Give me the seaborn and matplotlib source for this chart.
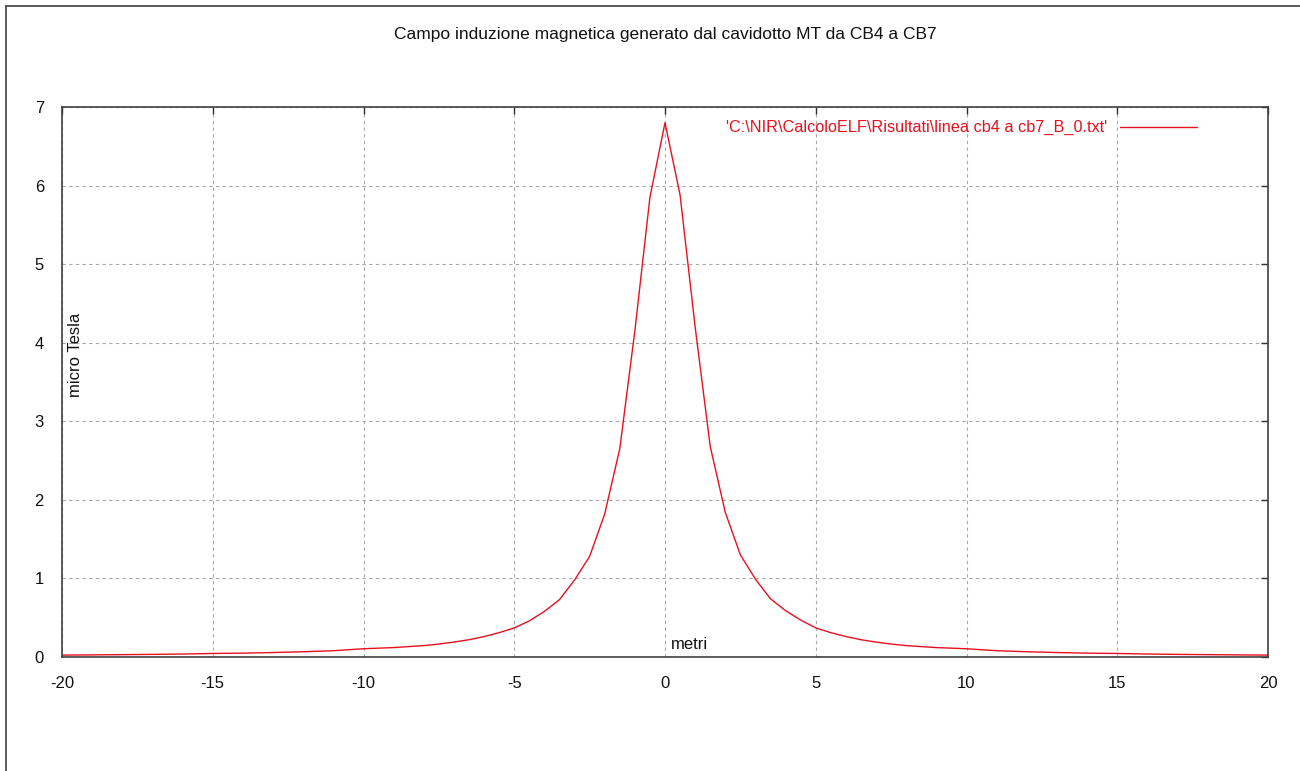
import pandas as pd
import seaborn as sns
import matplotlib.pyplot as plt
from matplotlib.lines import Line2D

# distance from the cable axis (m) and magnetic induction (microtesla)
distanza = [-20, -19, -18, -17, -16, -15, -14, -13, -12, -11, -10, -9,
            -8, -7.5, -7, -6.5, -6, -5.5, -5, -4.5, -4, -3.5, -3, -2.5,
            -2, -1.5, -1, -0.5, 0, 0.5, 1, 1.5, 2, 2.5, 3, 3.5, 4, 4.5,
            5, 5.5, 6, 6.5, 7, 7.5, 8, 9, 10, 11, 12, 13, 14, 15, 16, 17,
            18, 19, 20]
campo_b = [0.024, 0.027, 0.030, 0.033, 0.038, 0.045, 0.049, 0.057, 0.067,
           0.080, 0.105, 0.12, 0.145, 0.165, 0.19, 0.22, 0.26, 0.31, 0.37,
           0.46, 0.58, 0.73, 0.98, 1.28, 1.82, 2.65, 4.15, 5.85, 6.80,
           5.88, 4.2, 2.68, 1.84, 1.3, 0.99, 0.74, 0.59, 0.47, 0.37,
           0.31, 0.26, 0.22, 0.19, 0.165, 0.145, 0.12, 0.105, 0.080, 0.067,
           0.057, 0.049, 0.045, 0.038, 0.033, 0.030, 0.027, 0.024]

titolo = "Campo induzione magnetica generato dal cavidotto MT da CB4 a CB7"
etichetta = "'C:\\NIR\\CalcoloELF\\Risultati\\linea cb4 a cb7_B_0.txt'"
x_ticks = [-20, -15, -10, -5, 0, 5, 10, 15, 20]
y_ticks = [0, 1, 2, 3, 4, 5, 6, 7]

df = pd.DataFrame({"metri": distanza, "B": campo_b})

sns.set_theme(style="white")
plt.rcParams["font.family"] = ["Liberation Sans", "DejaVu Sans"]
plt.rcParams["axes.unicode_minus"] = False
fs = 12

rosso = "#e8101e"
fig = plt.figure(figsize=(13, 7.71), dpi=100)
ax = fig.add_axes([62 / 1300, 114 / 771, 1206 / 1300, 550 / 771])

sns.lineplot(data=df, x="metri", y="B", color=rosso, linewidth=1.0, ax=ax,
             label=etichetta)

ax.set_xlim(-20, 20)
ax.set_ylim(0, 7)
ax.set_xticks(x_ticks)
ax.set_yticks(y_ticks)
ax.grid(True, color="#a8a8a8", linestyle=(0, (3, 3)), linewidth=0.8)
ax.tick_params(direction="in", length=5, width=1, color="#303030",
               top=True, right=True, labelsize=fs, labelcolor="#111111")
ax.tick_params(axis="x", pad=14)
ax.tick_params(axis="y", pad=13)
for s in ax.spines.values():
    s.set_color("#404040")
    s.set_linewidth(1.2)

ax.set_xlabel("metri", fontsize=fs, color="#111111")
ax.xaxis.set_label_coords(0.52, 0.036)
ax.set_ylabel("micro Tesla", fontsize=fs, color="#111111")
ax.yaxis.set_label_coords(0.0175, 0.55)

leg = ax.legend(loc="upper right", bbox_to_anchor=(0.941, 0.976),
                frameon=False, markerfirst=False, handlelength=4.7,
                handletextpad=0.8, borderaxespad=0, borderpad=0,
                fontsize=11.7)
for t in leg.get_texts():
    t.set_color(rosso)

fig.text(665 / 1300, 1 - 35 / 771, titolo, ha="center", va="center",
         fontsize=12.5, color="#111111")

# outer frame (left and top edges visible)
fig.add_artist(Line2D([6 / 1300, 6 / 1300], [0, 1 - 6 / 771],
                      transform=fig.transFigure, color="#404040", lw=1.2))
fig.add_artist(Line2D([6 / 1300, 1], [1 - 6 / 771, 1 - 6 / 771],
                      transform=fig.transFigure, color="#404040", lw=1.2))

fig.savefig("out.png", dpi=100, facecolor="white")
